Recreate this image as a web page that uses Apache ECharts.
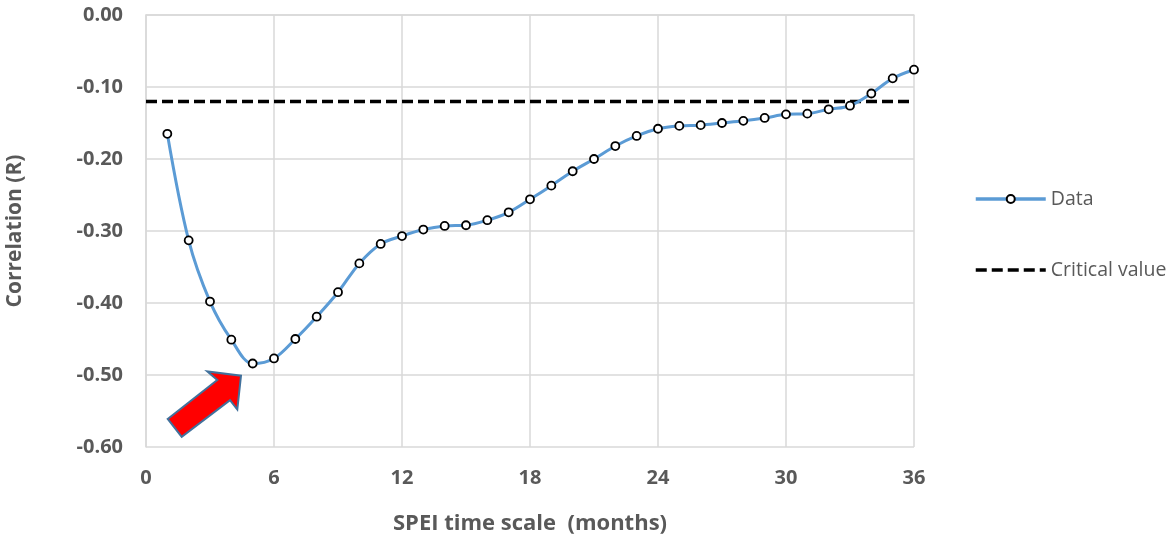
<!DOCTYPE html>
<html><head><meta charset="utf-8">
<script src="https://cdn.jsdelivr.net/npm/echarts@6/dist/echarts.min.js"></script>
<style>html,body{margin:0;padding:0;background:#fff}#c{width:1171px;height:537px}</style>
</head><body><div id="c"></div>
<script>
var months = [1,2,3,4,5,6,7,8,9,10,11,12,13,14,15,16,17,18,19,20,21,22,23,24,25,26,27,28,29,30,31,32,33,34,35,36];
var correlation = [-0.165,-0.313,-0.398,-0.451,-0.484,-0.477,-0.450,-0.419,-0.385,-0.345,-0.318,-0.307,-0.298,-0.293,-0.292,-0.285,-0.274,-0.256,-0.237,-0.217,-0.200,-0.182,-0.168,-0.158,-0.154,-0.153,-0.150,-0.147,-0.143,-0.138,-0.137,-0.131,-0.126,-0.109,-0.088,-0.076];
var criticalX = [0, 36];
var criticalValue = -0.12;
var xTicks = {min: 0, max: 36, interval: 6};
var yTicks = {min: -0.6, max: 0, interval: 0.1};
// arrow annotation outline in data units
var arrowShape = [[1.017,-0.561],[3.342,-0.507],[2.874,-0.495],[4.453,-0.501],[4.280,-0.548],[3.938,-0.535],[1.674,-0.586]];

var FONT = 'Open Sans';
var TXT = '#595959';
var GRID = '#D9D9D9';
var chart = echarts.init(document.getElementById('c'), null, {renderer: 'canvas'});
chart.setOption({
  animation: false,
  textStyle: {fontFamily: FONT},
  grid: {left: 146, right: 257, top: 15, bottom: 90, containLabel: false, outerBoundsMode: 'none'},
  legend: {
    orient: 'vertical', left: 969, top: 184, itemWidth: 70, itemHeight: 10, itemGap: 51,
    textStyle: {color: TXT, fontSize: 19.5, fontFamily: FONT},
    lineStyle: {width: 3.5},
    data: [
      {name: 'Data'},
      {name: 'Critical value', itemStyle: {color: 'transparent', borderWidth: 0}}
    ]
  },
  xAxis: {
    type: 'value', min: xTicks.min, max: xTicks.max, interval: xTicks.interval,
    name: 'SPEI time scale  (months)', nameLocation: 'middle', nameGap: 66,
    nameTextStyle: {color: TXT, fontSize: 22, fontWeight: 'bold', fontFamily: FONT},
    axisLine: {lineStyle: {color: GRID, width: 1.5}},
    axisTick: {show: false},
    axisLabel: {color: TXT, fontSize: 20, fontWeight: 'bold', margin: 21, fontFamily: FONT},
    splitLine: {show: true, lineStyle: {color: GRID, width: 1.5}}
  },
  yAxis: {
    type: 'value', min: yTicks.min, max: yTicks.max, interval: yTicks.interval,
    name: 'Correlation (R)', nameLocation: 'middle', nameGap: 120, nameRotate: 90,
    nameTextStyle: {color: TXT, fontSize: 21, fontWeight: 'bold', fontFamily: FONT},
    axisLine: {show: true, lineStyle: {color: GRID, width: 1.5}},
    axisTick: {show: false},
    axisLabel: {color: TXT, fontSize: 20, fontWeight: 'bold', margin: 23, fontFamily: FONT,
      formatter: function (v) { return v.toFixed(2); }},
    splitLine: {show: true, lineStyle: {color: GRID, width: 1.5}}
  },
  series: [
    {
      name: 'Data', type: 'line', smooth: 0.35,
      data: months.map(function (m, i) { return [m, correlation[i]]; }),
      symbol: 'circle', symbolSize: 8,
      lineStyle: {color: '#5B9BD5', width: 3},
      itemStyle: {color: '#ffffff', borderColor: '#000000', borderWidth: 1.8},
      z: 3
    },
    {
      name: 'Critical value', type: 'line', symbol: 'none',
      data: criticalX.map(function (x) { return [x, criticalValue]; }),
      lineStyle: {color: '#000000', width: 3.5, type: [11, 5]},
      itemStyle: {color: '#000000'},
      z: 2
    }
  ]
});
var pts = arrowShape.map(function (p) { return chart.convertToPixel({gridIndex: 0}, p); });
chart.setOption({
  graphic: [{
    type: 'polygon', shape: {points: pts}, z: 10,
    style: {fill: '#FF0000', stroke: '#41719C', lineWidth: 2}
  }]
});
</script></body></html>
